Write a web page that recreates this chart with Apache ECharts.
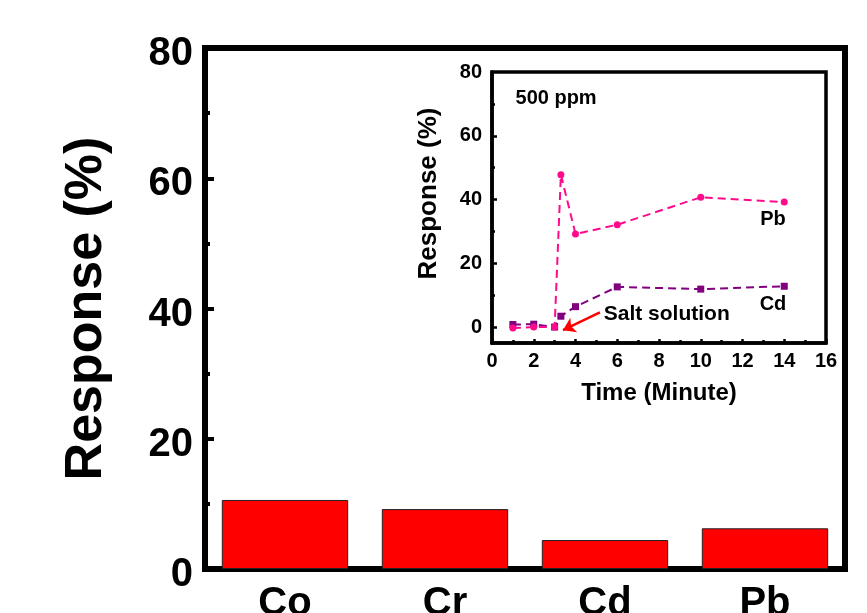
<!DOCTYPE html>
<html>
<head>
<meta charset="utf-8">
<script src="https://cdn.jsdelivr.net/npm/echarts@6/dist/echarts.min.js"></script>
<style>html,body{margin:0;padding:0;background:#fff;}#c{width:867px;height:613px;}</style>
</head>
<body>
<div id="c"></div>
<script>
// Main bar chart data
const metals = ['Co', 'Cr', 'Cd', 'Pb'];
const barResponse = [10.6, 9.2, 4.45, 6.25];

// Inset time-response data (500 ppm)
const timeMin = [1, 2, 3, 3.3, 4, 6, 10, 14];
const pbResponse = [-0.3, 0, 0, 47.8, 29.2, 32.1, 40.7, 39.2];
const cdResponse = [0.8, 0.9, 0, 3.4, 6.4, 12.6, 11.9, 12.8];
const insetYLabels = [0, 20, 40, 60, 80];
const insetYMajorTicks = [0, 20, 40, 60];
const insetYMinorTicks = [10, 30, 50, 70];

const FONT = 'Liberation Sans, Arial, sans-serif';
const chart = echarts.init(document.getElementById('c'), null, {renderer: 'canvas'});

const pair = (xs, ys) => xs.map((x, i) => [x, ys[i]]);
const textPoint = (coord, text, size) => ({
  coord: coord, symbol: 'rect', symbolSize: 1,
  itemStyle: {color: 'rgba(0,0,0,0)'},
  label: {show: true, position: 'inside', formatter: text, fontSize: size,
          fontWeight: 'bold', color: '#000', fontFamily: FONT}
});

const option = {
  backgroundColor: '#fff',
  animation: false,
  grid: [
    {left: 205, right: 22, top: 48, bottom: 44, show: true, borderWidth: 6, borderColor: '#000',
     backgroundColor: 'transparent', containLabel: false, outerBoundsMode: 'none'},
    {left: 492, right: 41, top: 72, bottom: 270, show: true, borderWidth: 3.5, borderColor: '#000',
     backgroundColor: '#fff', containLabel: false, outerBoundsMode: 'none'}
  ],
  xAxis: [
    {
      type: 'category', gridIndex: 0, data: metals,
      axisLine: {show: true, onZero: false, lineStyle: {color: '#000', width: 6}},
      axisTick: {show: false},
      axisLabel: {fontSize: 40, fontWeight: 'bold', color: '#000', margin: 15, fontFamily: FONT},
      splitLine: {show: false}
    },
    {
      type: 'value', gridIndex: 1, min: 0, max: 16, interval: 2,
      name: 'Time (Minute)', nameLocation: 'middle', nameGap: 38,
      nameTextStyle: {fontSize: 24, fontWeight: 'bold', color: '#000', fontFamily: FONT},
      axisLine: {show: true, onZero: false, lineStyle: {color: '#000', width: 3.5}},
      axisTick: {show: true, inside: true, length: 4, lineStyle: {color: '#000', width: 2.5}},
      minorTick: {show: true, splitNumber: 2, length: 3, lineStyle: {color: '#000', width: 2.5}},
      axisLabel: {fontSize: 20, fontWeight: 'bold', color: '#000', margin: 8, fontFamily: FONT},
      splitLine: {show: false}, minorSplitLine: {show: false}
    }
  ],
  yAxis: [
    {
      type: 'value', gridIndex: 0, min: 0, max: 80, interval: 20,
      name: 'Response (%)', nameLocation: 'middle', nameGap: 92,
      nameTextStyle: {fontSize: 52, fontWeight: 'bold', color: '#000', fontFamily: FONT},
      axisLine: {show: true, onZero: false, lineStyle: {color: '#000', width: 6}},
      axisTick: {show: true, inside: true, length: 9, lineStyle: {color: '#000', width: 4}},
      minorTick: {show: true, splitNumber: 2, length: 5, lineStyle: {color: '#000', width: 4}},
      axisLabel: {fontSize: 40, fontWeight: 'bold', color: '#000', margin: 12, fontFamily: FONT,
                  verticalAlign: 'top', lineHeight: 12},
      splitLine: {show: false}, minorSplitLine: {show: false}
    },
    {
      type: 'value', gridIndex: 1, min: -5, max: 80, position: 'left',
      name: 'Response (%)', nameLocation: 'middle', nameGap: 50,
      nameTextStyle: {fontSize: 26, fontWeight: 'bold', color: '#000', fontFamily: FONT, padding: [0, 0, 0, 28]},
      axisLine: {show: true, onZero: false, lineStyle: {color: '#000', width: 3.5}},
      axisTick: {show: true, inside: true, length: 5, lineStyle: {color: '#000', width: 2.5}, customValues: insetYMajorTicks},
      axisLabel: {fontSize: 20, fontWeight: 'bold', color: '#000', margin: 10, fontFamily: FONT, customValues: insetYLabels},
      splitLine: {show: false}
    },
    {
      type: 'value', gridIndex: 1, min: -5, max: 80, position: 'left',
      axisLine: {show: false, onZero: false},
      axisTick: {show: true, inside: true, length: 3, lineStyle: {color: '#000', width: 2.5}, customValues: insetYMinorTicks},
      axisLabel: {show: false},
      splitLine: {show: false}
    }
  ],
  series: [
    {
      type: 'bar', xAxisIndex: 0, yAxisIndex: 0, data: barResponse,
      barWidth: '79%',
      itemStyle: {color: '#ff0000', borderColor: '#222', borderWidth: 1}
    },
    {
      type: 'line', xAxisIndex: 1, yAxisIndex: 1, data: pair(timeMin, pbResponse),
      symbol: 'circle', symbolSize: 7, z: 5,
      itemStyle: {color: '#ff0a8c'},
      lineStyle: {color: '#ff0a8c', width: 2, type: [8, 5]},
      markLine: {
        silent: true, symbol: ['none', 'arrow'], symbolSize: 12,
        lineStyle: {color: '#ff0000', width: 2.5, type: 'solid'},
        label: {show: false},
        data: [[{coord: [5.17, 4.6]}, {coord: [3.4, -1.0]}]]
      },
      markPoint: {
        silent: true,
        data: [
          textPoint([13.46, 33.7], 'Pb', 20),
          textPoint([13.46, 7.2], 'Cd', 20),
          textPoint([3.07, 71.6], '500 ppm', 20),
          textPoint([8.37, 4.0], 'Salt solution', 21)
        ]
      }
    },
    {
      type: 'line', xAxisIndex: 1, yAxisIndex: 1, data: pair(timeMin, cdResponse),
      symbol: 'rect', symbolSize: 7, z: 4,
      itemStyle: {color: '#800080'},
      lineStyle: {color: '#800080', width: 2, type: [8, 5]}
    }
  ]
};
chart.setOption(option);
</script>
</body>
</html>
